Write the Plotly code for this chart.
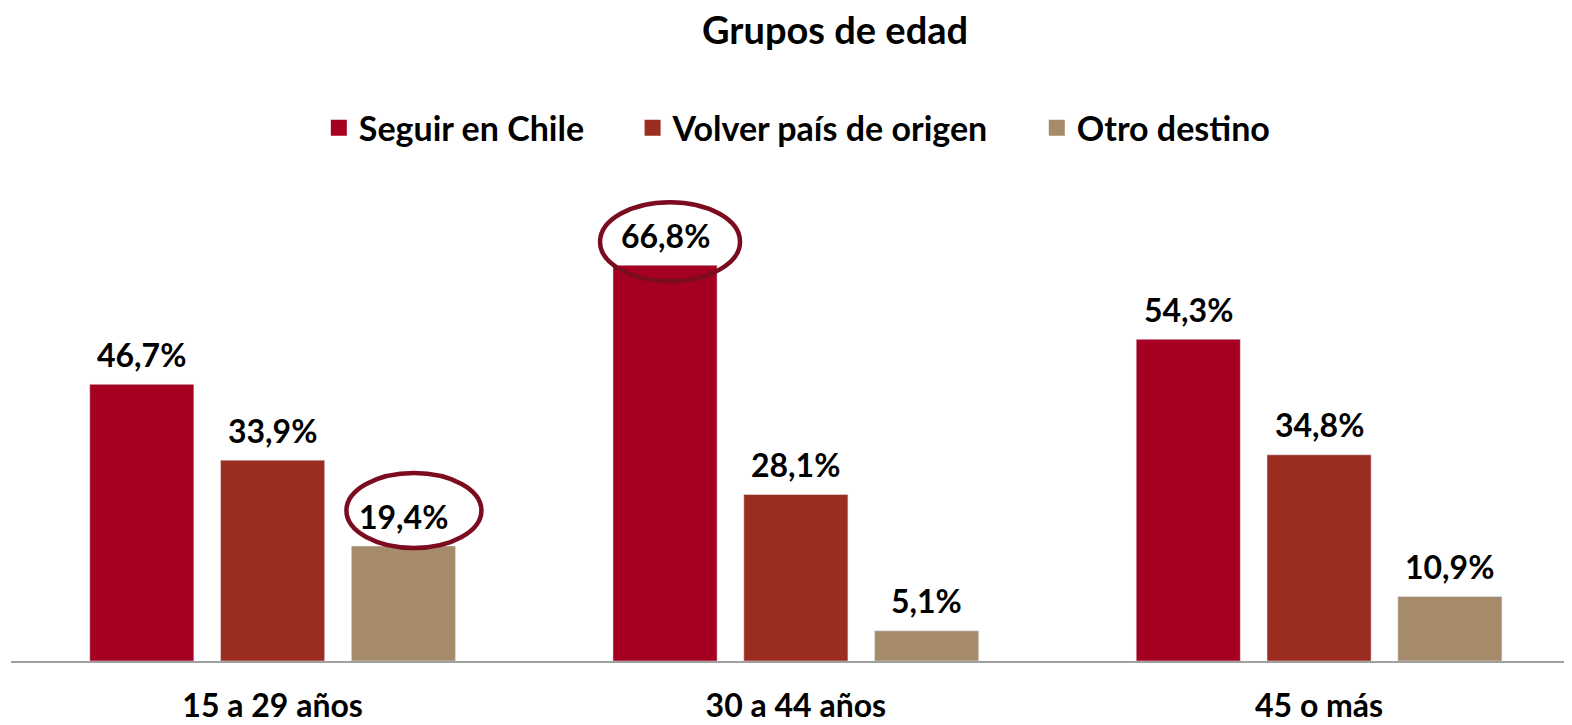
import plotly.graph_objects as go

categories = ["15 a 29 años", "30 a 44 años", "45 o más"]
series_names = ["Seguir en Chile", "Volver país de origen", "Otro destino"]
seguir = [46.7, 66.8, 54.3]
volver = [33.9, 28.1, 34.8]
otro = [19.4, 5.1, 10.9]
colors = ["#A50021", "#9B2D20", "#A58B6A"]
highlights = [(0, 2), (1, 0)]  # (category index, series index)
chart_title = "Grupos de edad"

series = [seguir, volver, otro]
FONT = "Lato"
fig = go.Figure()
xs = list(range(len(categories)))
offsets = [-0.25, 0.0, 0.25]
pad = "\u00a0" * 5

for j, (name, vals) in enumerate(zip(series_names, series)):
    fig.add_trace(go.Bar(
        x=xs, y=vals, name=name, marker_color=colors[j], showlegend=False,
        offsetgroup=str(j), hoverinfo="skip",
    ))
    fig.add_trace(go.Scatter(
        x=[None], y=[None], mode="markers",
        name="<b>%s</b>%s" % (name, pad if j < 2 else ""),
        marker=dict(symbol="square", size=20, color=colors[j]),
    ))

for j, vals in enumerate(series):
    for i, v in enumerate(vals):
        fig.add_annotation(
            x=i + offsets[j], y=v, text="<b>%s%%</b>" % ("%.1f" % v).replace(".", ","),
            showarrow=False, yshift=30, yanchor="middle",
            font=dict(family=FONT, size=32, color="black"),
        )

for (i, j) in highlights:
    v = series[j][i]
    if j == 0:
        x0, x1, y0, y1 = -65, 75, -16, 63
    else:
        x0, x1, y0, y1 = -57, 78, -2, 73
    fig.add_shape(
        type="circle", xref="x", yref="y", xsizemode="pixel", ysizemode="pixel",
        xanchor=i + offsets[j], yanchor=v, x0=x0, x1=x1, y0=y0, y1=y1,
        line=dict(color="#7B0C1F", width=4.5), fillcolor="rgba(0,0,0,0)",
    )

fig.add_annotation(
    text="<b>%s</b>" % chart_title, xref="paper", yref="paper",
    x=0.530, y=1 + 158 / 474, xanchor="center", yanchor="middle", showarrow=False,
    font=dict(family=FONT, size=38, color="black"),
)

fig.update_layout(
    width=1572, height=725,
    margin=dict(l=3, r=15, t=179, b=72),
    paper_bgcolor="white", plot_bgcolor="white",
    barmode="group", bargap=0.25, bargroupgap=0.204,
    legend=dict(orientation="h", x=0.506, xanchor="center", y=1.124, yanchor="middle",
                font=dict(family=FONT, size=34, color="black"),
                itemclick=False, itemdoubleclick=False),
    xaxis=dict(range=[-0.5, 2.47], tickvals=xs, ticktext=["<b>%s</b>" % c for c in categories],
               showgrid=False, zeroline=False, showline=True, linecolor="#A0A0A0", linewidth=2,
               ticks="", ticklabelstandoff=16, automargin=False,
               tickfont=dict(family=FONT, size=32, color="black")),
    yaxis=dict(range=[0, 80], visible=False, showgrid=False, zeroline=False, automargin=False),
)

fig.write_html("out.html")
